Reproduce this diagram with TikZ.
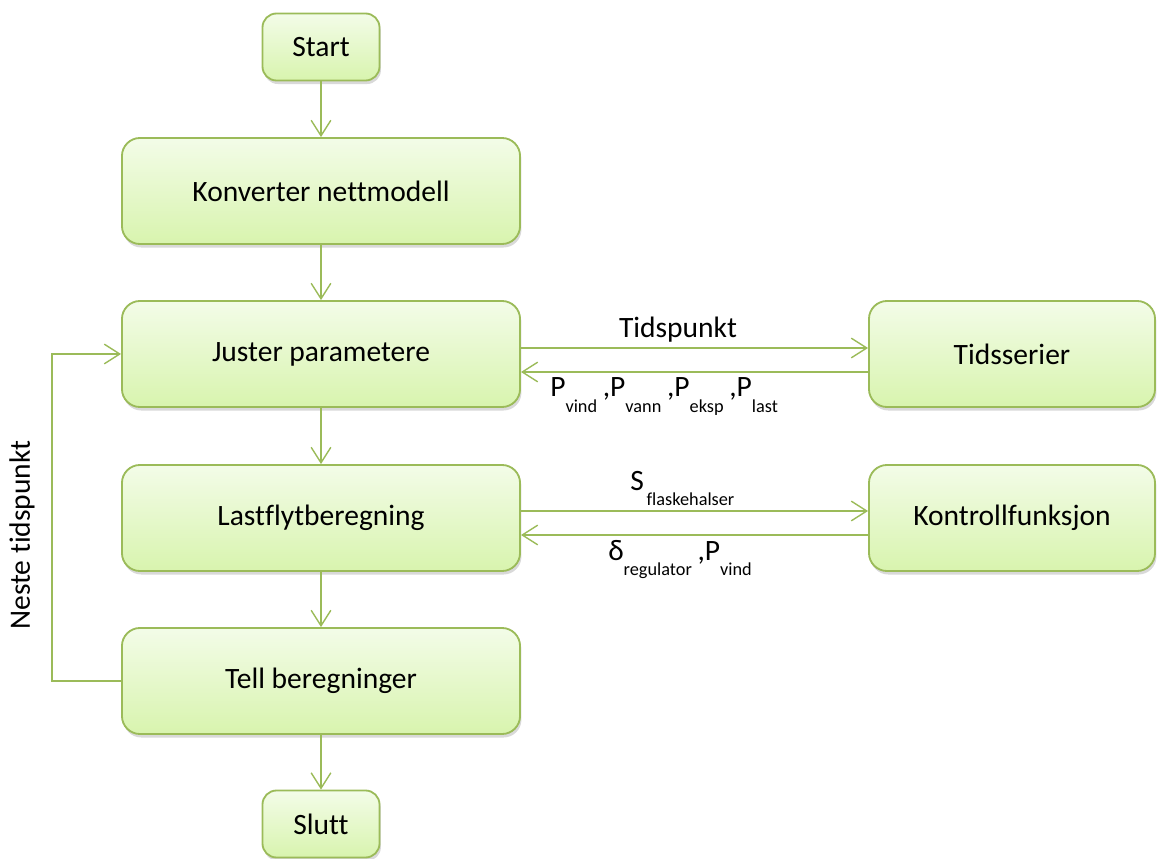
\documentclass[tikz,border=0pt]{standalone}
\usepackage{fontspec}
\setmainfont{Carlito}[Ligatures=NoCommon]
\usetikzlibrary{shapes}
\usetikzlibrary{positioning}
\usetikzlibrary{arrows.meta}
\usetikzlibrary{shadows}
\definecolor{boxline}{HTML}{9BBB59}
\definecolor{boxtop}{HTML}{F3FCE8}
\definecolor{boxbot}{HTML}{D8F4AE}
\newcommand{\lowsub}[1]{\raisebox{-11pt}{\fontsize{13}{15}\selectfont #1}\kern4pt}
\tikzset{
    mybox/.style = {rectangle, rounded corners=0.45cm, line width=1.3pt, draw=boxline, top color=boxtop, bottom color=boxbot, align=center, minimum width=9.95cm, minimum height=2.65cm, font=\fontsize{21}{25}\selectfont, text=black, drop shadow={shadow xshift=1pt, shadow yshift=-2.5pt, opacity=0.3}},
    myboxs/.style = {mybox, rounded corners=0.35cm, minimum width=2.925cm, minimum height=1.675cm},
    myboxr/.style = {mybox, minimum width=7.15cm},
    mylabel/.style = {font=\fontsize{21}{25}\selectfont, inner sep=0pt},
    edgeg/.style = {-{Straight Barb[length=11pt,width=14pt]}, line width=1pt, boxline},
}

\begin{document}
\begin{tikzpicture}[x=0.025cm,y=-0.025cm]
\useasboundingbox (0,0) rectangle (1157,859);
%
\node[myboxs] at (321,47) (start) {Start};
\node[mybox] at (321,191) (konv) {Konverter nettmodell};
\node[mybox] at (321,354) (juster) {Juster parametere};
\node[mybox] at (321,518) (last) {Lastflytberegning};
\node[mybox] at (321,681) (tell) {Tell beregninger};
\node[myboxs] at (321,824) (slutt) {Slutt};
\node[myboxr] at (1012,354) (tids) {Tidsserier};
\node[myboxr] at (1012,518) (kontroll) {Kontrollfunksjon};
%
\draw[edgeg] (start) -- (konv);
\draw[edgeg] (konv) -- (juster);
\draw[edgeg] (juster) -- (last);
\draw[edgeg] (last) -- (tell);
\draw[edgeg] (tell) -- (slutt);
%
\draw[edgeg] (juster.east |- 0,348) -- (tids.west |- 0,348);
\draw[edgeg] (tids.west |- 0,372) -- (juster.east |- 0,372);
\draw[edgeg] (last.east |- 0,511) -- (kontroll.west |- 0,511);
\draw[edgeg] (kontroll.west |- 0,535) -- (last.east |- 0,535);
%
\coordinate (loop) at (52,681);
\draw[edgeg] (tell.west) -- (loop) |- (juster.west);
%
\node[mylabel, anchor=base] at (678,338) (tidspunkt) {Tidspunkt};
\node[mylabel, anchor=base west] at (550,397) (peffekt) {P\lowsub{vind},P\lowsub{vann},P\lowsub{eksp},P\lowsub{last}};
\node[mylabel, anchor=base west] at (630,490) (sflaske) {S\kern2pt\lowsub{flaskehalser}};
\node[mylabel, anchor=base west] at (608,560) (delta) {δ\lowsub{regulator},P\lowsub{vind}};
\node[mylabel, rotate=90] at (22,535) (neste) {Neste tidspunkt};

\end{tikzpicture}
\end{document}
